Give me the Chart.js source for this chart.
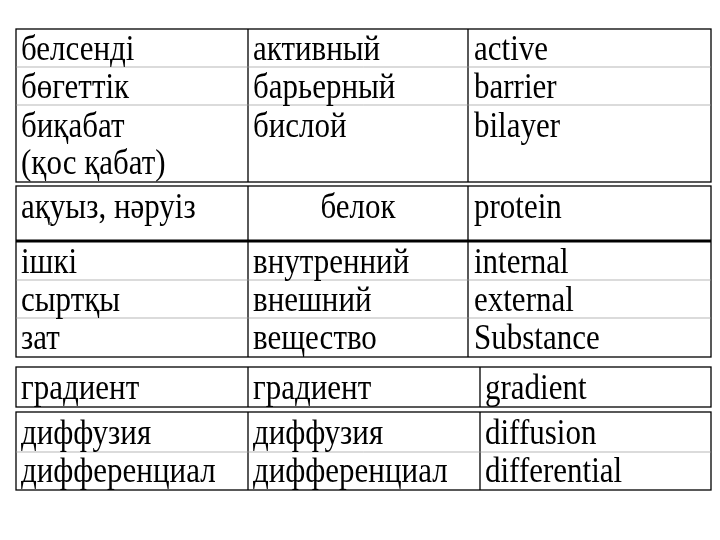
<!DOCTYPE html>
<html><head><meta charset="utf-8">
<script src="https://cdn.jsdelivr.net/npm/chart.js@4"></script>
<style>html,body{margin:0;background:#fff}#w{width:720px;height:540px}</style>
</head><body><div id="w"><canvas id="c"></canvas></div>
<script>
const col1 = ["белсенді","бөгеттік","биқабат","(қос қабат)","ақуыз, нәруіз","ішкі","сыртқы","зат","градиент","диффузия","дифференциал"];
const col2 = ["активный","барьерный","бислой","","белок","внутренний","внешний","вещество","градиент","диффузия","дифференциал"];
const col3 = ["active","barrier","bilayer","","protein","internal","external","Substance","gradient","diffusion","differential"];
const baselines = [60,98,137,174,218,273,311,349,399,444,482];
const blocks = [
  {top:29,bottom:182,c1:248,c2:468,rows:[67,105]},
  {top:186,bottom:357,c1:248,c2:468,rows:[241,280,318]},
  {top:367,bottom:407,c1:248,c2:480,rows:[]},
  {top:412,bottom:490,c1:248,c2:480,rows:[452]}
];
const tableLeft = 16, tableRight = 711;
const thickLine = 241;

const tablePlugin = {
  id:'table',
  afterDraw(chart){
    const {ctx, scales:{x,y}} = chart;
    const X=v=>x.getPixelForValue(v), Y=v=>y.getPixelForValue(v);
    ctx.save();
    blocks.forEach(b=>{
      ctx.strokeStyle='#000';ctx.lineWidth=1.3;
      ctx.strokeRect(X(tableLeft),Y(b.top),X(tableRight)-X(tableLeft),Y(b.bottom)-Y(b.top));
      ctx.beginPath();
      [b.c1,b.c2].forEach(c=>{ctx.moveTo(X(c),Y(b.top));ctx.lineTo(X(c),Y(b.bottom));});
      ctx.stroke();
      ctx.strokeStyle='#999';ctx.lineWidth=0.7;
      ctx.beginPath();
      b.rows.forEach(r=>{ctx.moveTo(X(tableLeft),Y(r));ctx.lineTo(X(tableRight),Y(r));});
      ctx.stroke();
    });
    ctx.strokeStyle='#000';ctx.lineWidth=3;
    ctx.beginPath();ctx.moveTo(X(tableLeft),Y(thickLine));ctx.lineTo(X(tableRight),Y(thickLine));ctx.stroke();
    ctx.fillStyle='#000';
    ctx.font='31px "Liberation Serif"';
    ctx.textBaseline='alphabetic';
    const put=(t,px,py,align)=>{
      ctx.save();ctx.translate(px,py);ctx.scale(1,1.15);ctx.textAlign=align;ctx.fillText(t,0,0);ctx.restore();
    };
    baselines.forEach((bl,i)=>{
      const c3x = i>=8?485:474;
      put(col1[i],X(21),Y(bl),'left');
      if(i===4) put(col2[i],X(358),Y(bl),'center');
      else put(col2[i],X(253),Y(bl),'left');
      put(col3[i],X(c3x),Y(bl),'left');
    });
    ctx.restore();
  }
};
new Chart(document.getElementById('c'),{
  type:'scatter',
  data:{datasets:[{data:[],showLine:false}]},
  options:{responsive:true,maintainAspectRatio:false,animation:false,
    layout:{padding:0},
    plugins:{legend:{display:false},tooltip:{enabled:false}},
    scales:{x:{type:'linear',min:0,max:720,display:false},
            y:{type:'linear',min:0,max:540,reverse:true,display:false}}},
  plugins:[tablePlugin]
});
</script></body></html>
